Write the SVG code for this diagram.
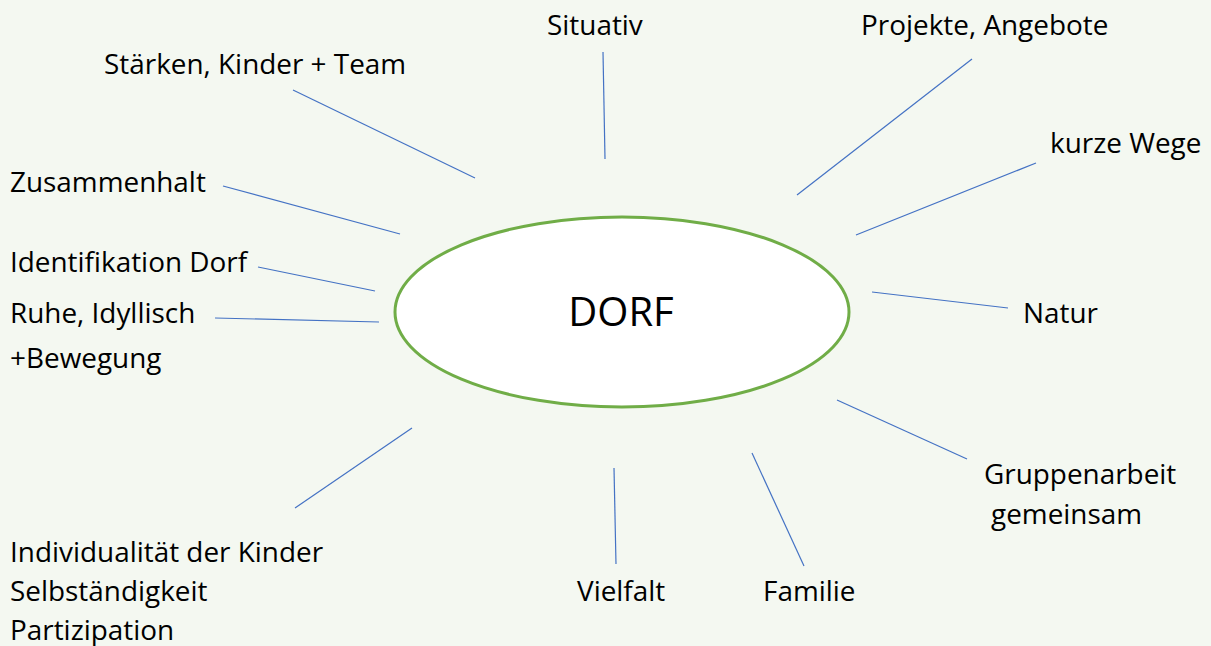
<svg xmlns="http://www.w3.org/2000/svg" width="1211" height="646" viewBox="0 0 1211 646">
<style>
.t{font-family:"Open Sans","Noto Sans","Liberation Sans",sans-serif;font-size:27.9px;fill:#000}
.c line{stroke:#4472c4;stroke-width:1.2}
</style>
<rect width="1211" height="646" fill="#f4f8f1"/>
<g id="center">
<ellipse cx="622" cy="312" rx="227" ry="95" fill="#fff" stroke="#70ad47" stroke-width="3"/>
<text class="t" x="621" y="326" text-anchor="middle" style="font-size:40px">DORF</text>
</g>
<g class="c" id="connectors">
<line x1="293" y1="90" x2="475" y2="178"/>
<line x1="603" y1="52" x2="605" y2="159"/>
<line x1="972" y1="59" x2="797" y2="195"/>
<line x1="1036" y1="163" x2="856" y2="235"/>
<line x1="223" y1="186" x2="400" y2="234"/>
<line x1="258" y1="267" x2="375" y2="291"/>
<line x1="215" y1="318" x2="379" y2="322"/>
<line x1="872" y1="292" x2="1008" y2="308"/>
<line x1="837" y1="400" x2="967" y2="459"/>
<line x1="412" y1="428" x2="295" y2="508"/>
<line x1="614" y1="468" x2="616" y2="564"/>
<line x1="752" y1="453" x2="804" y2="566"/>
</g>
<g id="situativ"><text class="t" x="547" y="35">Situativ</text></g>
<g id="projekte"><text class="t" x="861" y="35">Projekte, Angebote</text></g>
<g id="staerken"><text class="t" x="104" y="74">Stärken, Kinder + Team</text></g>
<g id="kurze"><text class="t" x="1050" y="153">kurze Wege</text></g>
<g id="zusammenhalt"><text class="t" x="10" y="192">Zusammenhalt</text></g>
<g id="identifikation"><text class="t" x="10" y="272">Identifikation Dorf</text></g>
<g id="ruhe"><text class="t" x="10" y="323">Ruhe, Idyllisch</text><text class="t" x="10" y="368">+Bewegung</text></g>
<g id="natur"><text class="t" x="1023" y="323">Natur</text></g>
<g id="gruppenarbeit"><text class="t" x="984" y="484">Gruppenarbeit</text><text class="t" x="991" y="524">gemeinsam</text></g>
<g id="individualitaet"><text class="t" x="10" y="562">Individualität der Kinder</text><text class="t" x="10" y="601">Selbständigkeit</text><text class="t" x="10" y="640">Partizipation</text></g>
<g id="vielfalt"><text class="t" x="577" y="601">Vielfalt</text></g>
<g id="familie"><text class="t" x="763" y="601">Familie</text></g>
</svg>
